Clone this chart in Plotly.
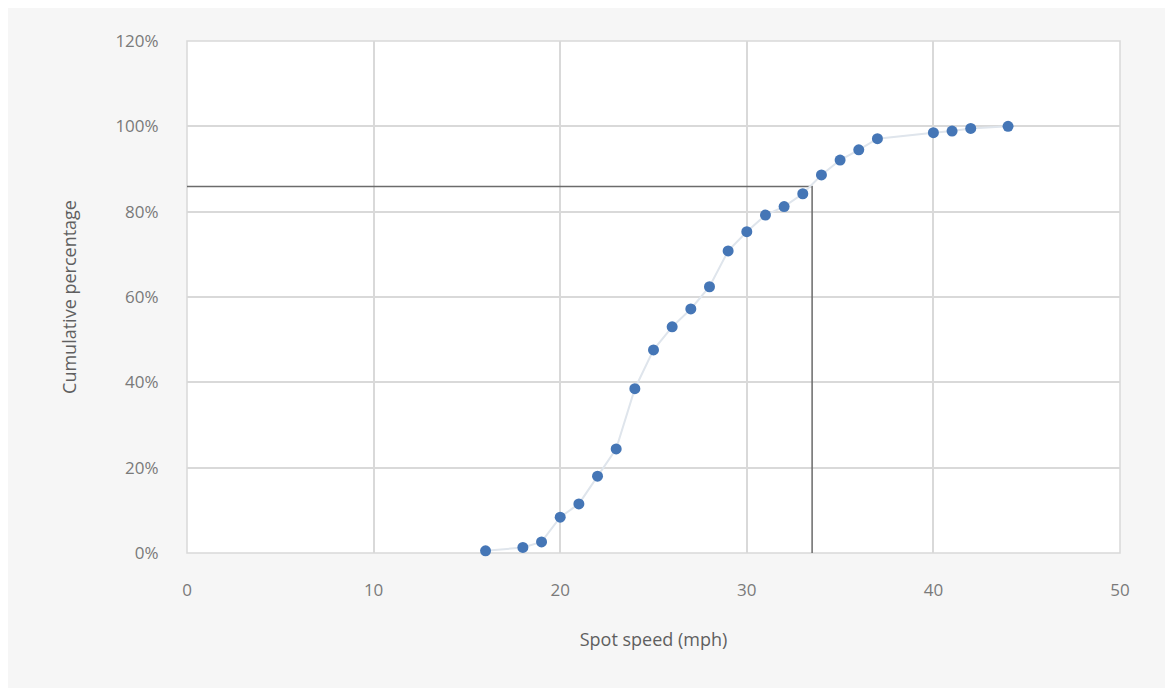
import plotly.graph_objects as go

speed_mph = [16, 18, 19, 20, 21, 22, 23, 24, 25, 26, 27, 28, 29, 30, 31, 32, 33, 34, 35, 36, 37, 40, 41, 42, 44]
cum_pct = [0.005, 0.013, 0.026, 0.084, 0.115, 0.18, 0.244, 0.385, 0.476, 0.53, 0.572, 0.624, 0.708, 0.753, 0.792, 0.812, 0.842, 0.886, 0.921, 0.945, 0.971, 0.985, 0.989, 0.995, 1.0]

ref_x = [0, 33.5, 33.5]
ref_y = [0.859, 0.859, 0]

x_ticks = [0, 10, 20, 30, 40, 50]
y_ticks = [0, 0.2, 0.4, 0.6, 0.8, 1.0, 1.2]

fig = go.Figure()
fig.add_trace(go.Scatter(x=ref_x, y=ref_y, mode="lines",
                         line=dict(color="#6b6b6b", width=1.5),
                         showlegend=False, hoverinfo="skip", cliponaxis=False))
fig.add_trace(go.Scatter(x=speed_mph, y=cum_pct, mode="lines+markers",
                         line=dict(color="#dfe5ec", width=2),
                         marker=dict(color="#4576b6", size=11),
                         showlegend=False, cliponaxis=False))

axis_font = dict(family="Open Sans", size=17, color="#7a7a7a")
title_font = dict(family="Open Sans", size=18, color="#5f5f5f")
fig.update_layout(
    width=1157, height=680,
    paper_bgcolor="#f6f6f6",
    plot_bgcolor="#ffffff",
    margin=dict(l=179, r=45, t=33, b=135),
    xaxis=dict(range=[0, 50], tickvals=x_ticks, showgrid=True, gridcolor="#d9d9d9",
               gridwidth=1.5, zeroline=False, showline=False, tickfont=axis_font,
               ticks="outside", ticklen=22, tickcolor="rgba(0,0,0,0)",
               title=dict(text="Spot speed (mph)", font=title_font, standoff=32)),
    yaxis=dict(range=[0, 1.2], tickvals=y_ticks, tickformat=".0%", showgrid=True,
               gridcolor="#d9d9d9", gridwidth=1.5, zeroline=False, showline=False,
               tickfont=axis_font, ticks="outside", ticklen=24, tickcolor="rgba(0,0,0,0)",
               title=dict(text="Cumulative percentage", font=title_font, standoff=34)),
    shapes=[dict(type="rect", xref="paper", yref="paper", x0=0, x1=1, y0=0, y1=1,
                 line=dict(color="#d9d9d9", width=1.5), fillcolor="rgba(0,0,0,0)", layer="below")],
)
fig.write_html("out.html")
